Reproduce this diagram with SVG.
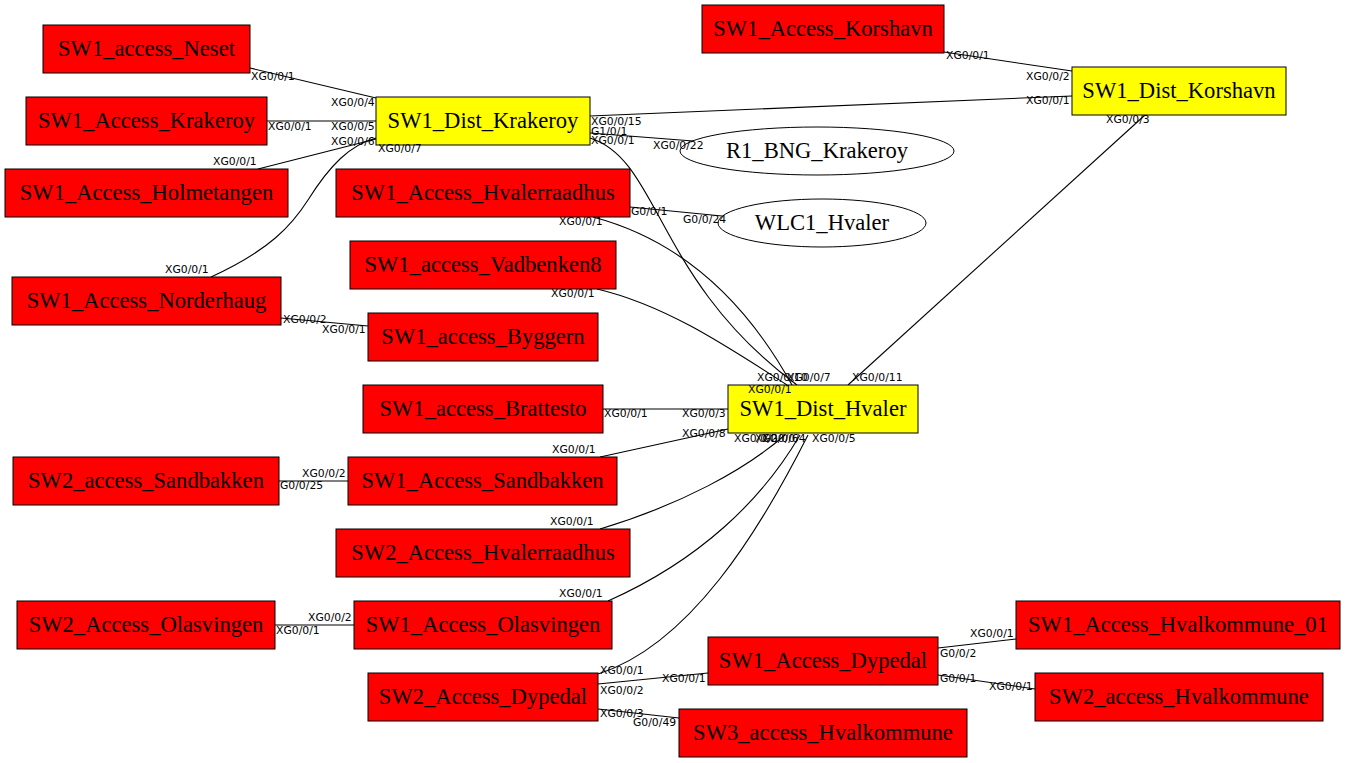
<svg xmlns="http://www.w3.org/2000/svg" width="1348" height="763" viewBox="0 0 1348 763">
<style>
.bg{fill:#ffffff}
.acc rect{fill:#ff0000;stroke:#000;stroke-width:1}
.dist rect{fill:#ffff00;stroke:#000;stroke-width:1}
.ell ellipse{fill:#ffffff;stroke:#000;stroke-width:1}
.n{font-family:"Liberation Serif","Times New Roman",serif;font-size:22.6px;text-anchor:middle;fill:#000}
#edges path,#edges line{fill:none;stroke:#000;stroke-width:1.1}
.l{font-family:"DejaVu Sans","Liberation Sans",sans-serif;font-size:10.8px;fill:#000}
</style>
<rect class="bg" x="0" y="0" width="1348" height="763"/>
<g id="edges">
<line x1="250" y1="68" x2="376" y2="98"/>
<line x1="267" y1="121" x2="376" y2="121"/>
<line x1="258" y1="169" x2="376" y2="139"/>
<path d="M211,277 C270,250 292,225 308,200 C330,165 350,145 376,138"/>
<line x1="944" y1="52" x2="1072" y2="71"/>
<line x1="590" y1="116" x2="1072" y2="96"/>
<line x1="590" y1="133" x2="706" y2="142"/>
<path d="M590,138 C660,160 655,280 797,385"/>
<line x1="630" y1="207" x2="722" y2="216"/>
<path d="M593,217 C680,240 745,300 792,385"/>
<path d="M597,289 C665,305 725,345 787,385"/>
<line x1="281" y1="318" x2="368" y2="326"/>
<line x1="603" y1="409" x2="728" y2="409"/>
<line x1="600" y1="457" x2="728" y2="429"/>
<line x1="279" y1="481" x2="348" y2="481"/>
<path d="M600,529 C680,505 745,470 785,435"/>
<line x1="275" y1="625" x2="354" y2="625"/>
<path d="M608,601 C700,560 762,500 800,435"/>
<path d="M598,674 C690,645 760,530 808,435"/>
<line x1="598" y1="684" x2="708" y2="673"/>
<line x1="598" y1="709" x2="679" y2="718"/>
<line x1="938" y1="648" x2="1016" y2="639"/>
<line x1="938" y1="675" x2="1035" y2="689"/>
<line x1="1145" y1="115" x2="848" y2="385"/>
</g>
<g id="SW1_access_Neset" class="acc"><rect x="43" y="25" width="207" height="48"/><text class="n" x="146.5" y="56">SW1_access_Neset</text></g>
<g id="SW1_Access_Korshavn" class="acc"><rect x="702" y="5" width="242" height="48"/><text class="n" x="823" y="36">SW1_Access_Korshavn</text></g>
<g id="SW1_Access_Krakeroy" class="acc"><rect x="26" y="97" width="241" height="48"/><text class="n" x="146.5" y="128">SW1_Access_Krakeroy</text></g>
<g id="SW1_Dist_Krakeroy" class="dist"><rect x="376" y="97" width="214" height="48"/><text class="n" x="483" y="128">SW1_Dist_Krakeroy</text></g>
<g id="SW1_Dist_Korshavn" class="dist"><rect x="1072" y="67" width="214" height="48"/><text class="n" x="1179" y="98">SW1_Dist_Korshavn</text></g>
<g id="R1_BNG_Krakeroy" class="ell"><ellipse cx="817" cy="151" rx="137" ry="24"/><text class="n" x="817" y="158">R1_BNG_Krakeroy</text></g>
<g id="SW1_Access_Holmetangen" class="acc"><rect x="5" y="169" width="283" height="48"/><text class="n" x="146.5" y="200">SW1_Access_Holmetangen</text></g>
<g id="SW1_Access_Hvalerraadhus" class="acc"><rect x="336" y="169" width="294" height="48"/><text class="n" x="483" y="200">SW1_Access_Hvalerraadhus</text></g>
<g id="WLC1_Hvaler" class="ell"><ellipse cx="822" cy="223" rx="104" ry="24"/><text class="n" x="822" y="230">WLC1_Hvaler</text></g>
<g id="SW1_access_Vadbenken8" class="acc"><rect x="350" y="241" width="266" height="48"/><text class="n" x="483" y="272">SW1_access_Vadbenken8</text></g>
<g id="SW1_Access_Norderhaug" class="acc"><rect x="12" y="277" width="269" height="48"/><text class="n" x="146.5" y="308">SW1_Access_Norderhaug</text></g>
<g id="SW1_access_Byggern" class="acc"><rect x="368" y="313" width="230" height="48"/><text class="n" x="483" y="344">SW1_access_Byggern</text></g>
<g id="SW1_access_Brattesto" class="acc"><rect x="363" y="385" width="240" height="48"/><text class="n" x="483" y="416">SW1_access_Brattesto</text></g>
<g id="SW1_Dist_Hvaler" class="dist"><rect x="728" y="385" width="190" height="48"/><text class="n" x="823" y="416">SW1_Dist_Hvaler</text></g>
<g id="SW2_access_Sandbakken" class="acc"><rect x="13" y="457" width="266" height="48"/><text class="n" x="146" y="488">SW2_access_Sandbakken</text></g>
<g id="SW1_Access_Sandbakken" class="acc"><rect x="348" y="457" width="269" height="48"/><text class="n" x="482.5" y="488">SW1_Access_Sandbakken</text></g>
<g id="SW2_Access_Hvalerraadhus" class="acc"><rect x="336" y="529" width="294" height="48"/><text class="n" x="483" y="560">SW2_Access_Hvalerraadhus</text></g>
<g id="SW2_Access_Olasvingen" class="acc"><rect x="17" y="601" width="258" height="48"/><text class="n" x="146" y="632">SW2_Access_Olasvingen</text></g>
<g id="SW1_Access_Olasvingen" class="acc"><rect x="354" y="601" width="258" height="48"/><text class="n" x="483" y="632">SW1_Access_Olasvingen</text></g>
<g id="SW1_Access_Hvalkommune_01" class="acc"><rect x="1016" y="601" width="324" height="48"/><text class="n" x="1178" y="632">SW1_Access_Hvalkommune_01</text></g>
<g id="SW1_Access_Dypedal" class="acc"><rect x="708" y="637" width="230" height="48"/><text class="n" x="823" y="668">SW1_Access_Dypedal</text></g>
<g id="SW2_Access_Dypedal" class="acc"><rect x="368" y="673" width="230" height="48"/><text class="n" x="483" y="704">SW2_Access_Dypedal</text></g>
<g id="SW2_access_Hvalkommune" class="acc"><rect x="1035" y="673" width="288" height="48"/><text class="n" x="1179" y="704">SW2_access_Hvalkommune</text></g>
<g id="SW3_access_Hvalkommune" class="acc"><rect x="679" y="709" width="288" height="48"/><text class="n" x="823" y="740">SW3_access_Hvalkommune</text></g>
<g id="edge-labels">
<text class="l" x="251" y="80">XG0/0/1</text>
<text class="l" x="331" y="106">XG0/0/4</text>
<text class="l" x="268" y="130">XG0/0/1</text>
<text class="l" x="331" y="130">XG0/0/5</text>
<text class="l" x="213" y="165">XG0/0/1</text>
<text class="l" x="331" y="145">XG0/0/6</text>
<text class="l" x="165" y="273">XG0/0/1</text>
<text class="l" x="378" y="152">XG0/0/7</text>
<text class="l" x="946" y="59">XG0/0/1</text>
<text class="l" x="1026" y="80">XG0/0/2</text>
<text class="l" x="591" y="125">XG0/0/15</text>
<text class="l" x="1026" y="104">XG0/0/1</text>
<text class="l" x="591" y="135">G1/0/1</text>
<text class="l" x="653" y="149">XG0/0/22</text>
<text class="l" x="591" y="144">XG0/0/1</text>
<text class="l" x="748" y="393">XG0/0/1</text>
<text class="l" x="631" y="215">G0/0/1</text>
<text class="l" x="683" y="223">G0/0/24</text>
<text class="l" x="559" y="225">XG0/0/1</text>
<text class="l" x="757" y="381">XG0/0/10</text>
<text class="l" x="551" y="297">XG0/0/1</text>
<text class="l" x="787" y="381">XG0/0/7</text>
<text class="l" x="283" y="323">XG0/0/2</text>
<text class="l" x="322" y="333">XG0/0/1</text>
<text class="l" x="604" y="417">XG0/0/1</text>
<text class="l" x="682" y="417">XG0/0/3</text>
<text class="l" x="552" y="453">XG0/0/1</text>
<text class="l" x="682" y="437">XG0/0/8</text>
<text class="l" x="302" y="477">XG0/0/2</text>
<text class="l" x="280" y="489">G0/0/25</text>
<text class="l" x="550" y="525">XG0/0/1</text>
<text class="l" x="734" y="442">XG0/0/2</text>
<text class="l" x="308" y="621">XG0/0/2</text>
<text class="l" x="276" y="634">XG0/0/1</text>
<text class="l" x="559" y="597">XG0/0/1</text>
<text class="l" x="755" y="442">XG0/0/6</text>
<text class="l" x="600" y="674">XG0/0/1</text>
<text class="l" x="762" y="442">XG0/0/4</text>
<text class="l" x="812" y="442">XG0/0/5</text>
<text class="l" x="600" y="694">XG0/0/2</text>
<text class="l" x="662" y="682">XG0/0/1</text>
<text class="l" x="600" y="717">XG0/0/3</text>
<text class="l" x="633" y="726">G0/0/49</text>
<text class="l" x="970" y="637">XG0/0/1</text>
<text class="l" x="940" y="657">G0/0/2</text>
<text class="l" x="940" y="682">G0/0/1</text>
<text class="l" x="989" y="690">XG0/0/1</text>
<text class="l" x="1106" y="123">XG0/0/3</text>
<text class="l" x="852" y="381">XG0/0/11</text>
</g>
</svg>
